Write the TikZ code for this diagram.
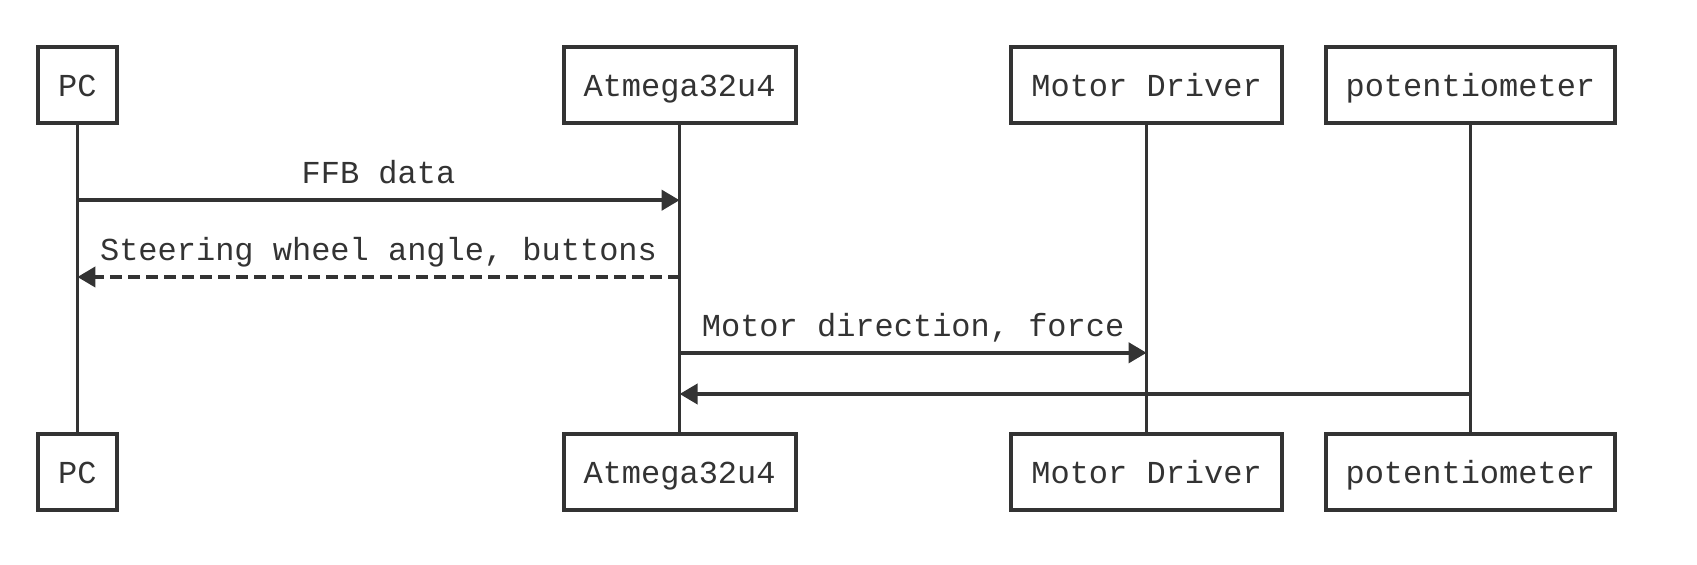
\documentclass[tikz,border=0pt]{standalone}
\usepackage{fontspec}
\setmonofont{Liberation Mono}
\usepackage{xcolor}
\usepackage{tikz}
\usetikzlibrary{arrows.meta, calc, positioning}
\definecolor{ink}{HTML}{333333}

\begin{document}
\begin{tikzpicture}[x=0.5pt, y=-0.5pt, node distance=193.3pt,
    actor/.style={rectangle, draw=ink, line width=2pt, fill=white, text=ink, inner xsep=10pt, minimum height=38pt, text height=13pt, text depth=2pt, font=\fontsize{16}{19}\selectfont\ttfamily},
    life/.style={draw=ink, line width=1.6pt},
    msg/.style={-{Triangle[length=9pt, width=10pt]}, draw=ink, line width=2pt},
    reply/.style={msg, dash pattern=on 6pt off 3pt},
    lbl/.style={above=1pt, text=ink, text height=11pt, text depth=3pt, font=\fontsize{16}{19}\selectfont\ttfamily}]

    \useasboundingbox (0,0) rectangle (1697,565);

    \node[actor] (pc) at (77.4,85.5) {PC};
    \node[actor, node distance=301.1pt, right of=pc] (atm) {Atmega32u4};
    \node[actor, node distance=233.5pt, right of=atm] (drv) {Motor Driver};
    \node[actor, node distance=161.9pt, right of=drv] (pot) {potentiometer};

    \node[actor, below of=pc] (pcb) {PC};
    \node[actor, below of=atm] (atmb) {Atmega32u4};
    \node[actor, below of=drv] (drvb) {Motor Driver};
    \node[actor, below of=pot] (potb) {potentiometer};

    \draw[life] (pc) -- (pcb);
    \draw[life] (atm) -- (atmb);
    \draw[life] (drv) -- (drvb);
    \draw[life] (pot) -- (potb);

    \draw[msg] (pc |- 0,200.2) -- node[lbl] {FFB data} (atm |- 0,200.2);
    \draw[reply] (atm |- 0,277) -- node[lbl] {Steering wheel angle, buttons} (pc |- 0,277);
    \draw[msg] (atm |- 0,352.8) -- node[lbl] {Motor direction, force} (drv |- 0,352.8);
    \draw[msg] (pot |- 0,394) -- (atm |- 0,394);
\end{tikzpicture}
\end{document}
